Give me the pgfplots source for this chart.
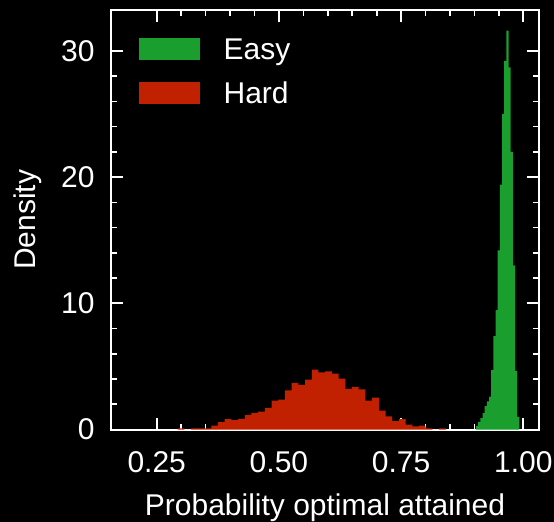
\documentclass[border=0pt]{standalone}
\usepackage{fontspec}
\setmainfont{Liberation Sans}
\usepackage{pgfplots}
\usepackage{pgfplotstable}
\pgfplotsset{compat=1.18}
\usetikzlibrary{backgrounds}
\definecolor{easygreen}{RGB}{26,158,46}
\definecolor{hardred}{RGB}{193,33,0}
\newcommand{\f}{\fontsize{15}{18}\selectfont}

\pgfplotstableread{
x y
0.2930 0.10
0.3067 0.00
0.3204 0.10
0.3341 0.10
0.3478 0.10
0.3616 0.30
0.3753 0.58
0.3890 0.82
0.4027 0.74
0.4164 0.85
0.4301 1.16
0.4438 1.32
0.4575 1.42
0.4712 1.72
0.4849 2.29
0.4987 2.37
0.5124 3.11
0.5261 3.70
0.5398 3.54
0.5535 3.96
0.5672 4.75
0.5809 4.52
0.5946 4.60
0.6083 4.43
0.6220 4.04
0.6358 3.22
0.6495 3.38
0.6632 3.19
0.6769 2.29
0.6906 2.53
0.7043 1.50
0.7180 1.05
0.7317 0.66
0.7454 0.82
0.7591 0.39
0.7729 0.24
0.7866 0.31
0.8003 0.10
0.8140 0.00
0.8277 0.10
0.8414 0.10
}\hardtable

\pgfplotstableread{
x y
0.9032 0.26
0.9076 0.60
0.9120 0.90
0.9165 1.30
0.9209 1.85
0.9253 2.22
0.9298 2.60
0.9342 4.70
0.9386 7.40
0.9431 9.45
0.9475 14.2
0.9519 19.4
0.9564 25.0
0.9608 29.2
0.9652 31.6
0.9697 28.7
0.9741 22.0
0.9785 13.0
0.9829 4.65
0.9874 1.00
0.9918 1.00
}\easytable

\begin{document}
\begin{tikzpicture}
\begin{axis}[
  scale only axis, width=214pt, height=209.75pt,
  xmin=0.1565, xmax=1.032, ymin=0, ymax=33.24,
  xtick={0.25,0.5,0.75,1}, minor x tick num=4,
  ytick={0,10,20,30}, minor y tick num=4,
  tick align=inside, xtick pos=both, ytick pos=both,
  major tick length=6pt, minor tick length=3pt,
  axis line style={white, line width=1pt},
  major tick style={white, line width=1pt},
  minor tick style={white, line width=0.8pt},
  tick label style={white, font=\f, inner sep=0pt},
  /pgf/number format/assume math mode=true,
  xticklabel style={/pgf/number format/fixed, /pgf/number format/fixed zerofill, /pgf/number format/precision=2, yshift=-11pt},
  yticklabel style={xshift=-8pt},
  xlabel={Probability optimal attained},
  ylabel={Density},
  label style={white, font=\f},
  xlabel style={at={(axis description cs:0.5,0)}, anchor=base, yshift=-43pt, inner sep=0pt},
  ylabel style={at={(axis description cs:-0.1935,0.5)}, anchor=center, inner sep=0pt},
  legend style={at={(0,1)}, anchor=north west, xshift=14pt, yshift=-14.2pt,
    draw=none, fill=none, inner sep=0pt, outer sep=0pt, row sep=11.2pt, column sep=11.9pt,
    nodes={inner sep=0pt, text height=10.3pt, text depth=0pt, text=white, font=\f}},
  legend cell align=left,
]
\addplot[const plot, fill=easygreen, draw=none, forget plot] table[x=x, y=y] {\easytable} \closedcycle;
\addplot[const plot, fill=hardred, draw=none, forget plot] table[x=x, y=y] {\hardtable} \closedcycle;
\addlegendimage{legend image code/.code={\fill[easygreen] (0pt,-5.15pt) rectangle (30pt,5.15pt);}}
\addlegendentry{Easy}
\addlegendimage{legend image code/.code={\fill[hardred] (0pt,-5.15pt) rectangle (30pt,5.15pt);}}
\addlegendentry{Hard}
\end{axis}
\begin{scope}[on background layer]
\fill[black] ([xshift=-55.5pt,yshift=-46pt]current axis.south west) rectangle ([xshift=7.5pt,yshift=5pt]current axis.north east);
\end{scope}
\end{tikzpicture}
\end{document}
